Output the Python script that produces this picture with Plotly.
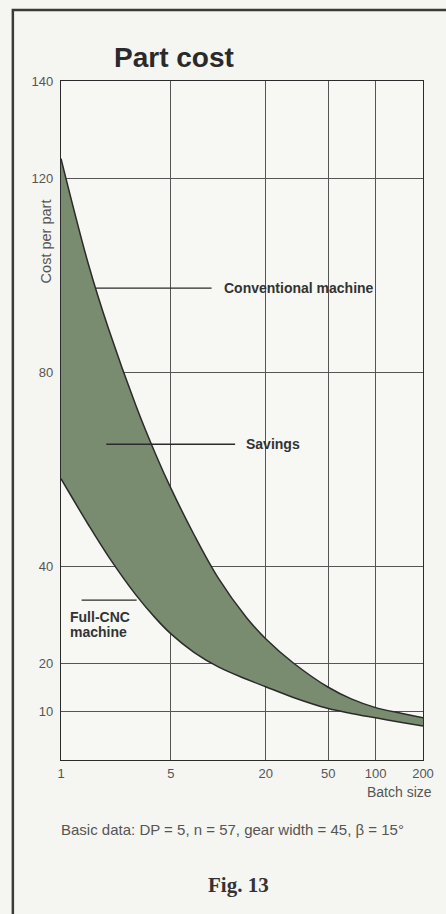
import plotly.graph_objects as go

PAPER = "#f5f5f1"
PANEL = "#f7f7f3"
INK = "#2b2b2b"
GRID = "#555555"
MUTED = "#555555"
BAND = "#798c6f"
FONT = "Liberation Sans, Arial, sans-serif"

# batch size (log axis) and cost per part
batch_size = [1, 1.5, 2, 3, 4, 5, 7, 10, 15, 20, 30, 50, 70, 100, 150, 200]
conventional = [124, 102, 89, 73, 63, 56, 46.5, 37.5, 29.5, 25, 20, 15, 12.6, 10.8, 9.55, 8.7]
full_cnc = [58, 48.4, 42.0, 34.0, 29.2, 26.0, 22.2, 19.2, 16.7, 15.1, 12.9, 10.6, 9.6, 8.7, 7.7, 7.0]

x_ticks = [1, 5, 20, 50, 100, 200]
y_ticks = [10, 20, 40, 80, 120, 140]

fig = go.Figure()

fig.add_trace(
    go.Scatter(
        x=batch_size,
        y=full_cnc,
        mode="lines",
        line=dict(color=INK, width=1.5, shape="spline", smoothing=1),
        name="Full-CNC machine",
        hoverinfo="skip"
    )
)

fig.add_trace(
    go.Scatter(
        x=batch_size,
        y=conventional,
        mode="lines",
        line=dict(color=INK, width=1.5, shape="spline", smoothing=1),
        fill="tonexty",
        fillcolor=BAND,
        name="Conventional machine",
        hoverinfo="skip"
    )
)

fig.update_layout(
    width=446,
    height=914,
    paper_bgcolor=PAPER,
    plot_bgcolor=PANEL,
    showlegend=False,
    font=dict(family=FONT, color=MUTED, size=13),
    margin=dict(l=61, r=17, t=81, b=154)
)

fig.update_xaxes(
    type="log",
    range=[0, 2.30103],
    tickvals=x_ticks,
    ticktext=[str(v) for v in x_ticks],
    ticks="outside",
    ticklen=1,
    tickcolor="rgba(0,0,0,0)",
    showgrid=True,
    gridcolor=GRID,
    gridwidth=1,
    showline=True,
    linecolor=INK,
    linewidth=1.2,
    mirror=True,
    zeroline=False,
    tickfont=dict(size=13, color=MUTED)
)

fig.update_yaxes(
    range=[0, 140],
    tickvals=y_ticks,
    ticks="outside",
    ticklen=4,
    tickcolor="rgba(0,0,0,0)",
    showgrid=True,
    gridcolor=GRID,
    gridwidth=1,
    showline=True,
    linecolor=INK,
    linewidth=1.2,
    mirror=True,
    zeroline=False,
    tickfont=dict(size=13, color=MUTED)
)

# page frame of the scanned figure
fig.add_shape(
    type="path",
    xref="paper", yref="paper",
    path="M -0.133 -0.24 L -0.133 1.1046 L 1.1 1.1046",
    line=dict(color="#3a3a3a", width=2.5)
)

# leader lines
for x0, x1, y in [(0.095, 0.416, 0.695), (0.125, 0.481, 0.465), (0.057, 0.209, 0.2356)]:
    fig.add_shape(
        type="line",
        xref="paper", yref="paper",
        x0=x0, x1=x1, y0=y, y1=y,
        line=dict(color=INK, width=1.3)
    )

labels = [
    ("Conventional machine", 0.446, 0.695),
    ("Savings", 0.505, 0.465),
    ("Full-CNC", 0.019, 0.2105),
    ("machine", 0.019, 0.188),
]
for text, x, y in labels:
    fig.add_annotation(
        text=text,
        xref="paper", yref="paper",
        x=x, y=y,
        xanchor="left", yanchor="middle",
        showarrow=False,
        font=dict(family=FONT, size=14, color="#333333", weight="bold")
    )

fig.add_annotation(
    text="Part cost",
    xref="paper", yref="paper",
    x=0.3125, y=1.035,
    xanchor="center", yanchor="middle",
    showarrow=False,
    font=dict(family=FONT, size=28, color="#2a2a2a", weight="bold")
)

fig.add_annotation(
    text="Cost per part",
    xref="paper", yref="paper",
    x=-0.041, y=0.764,
    textangle=-90,
    xanchor="center", yanchor="middle",
    showarrow=False,
    font=dict(family=FONT, size=14.5, color=MUTED)
)

fig.add_annotation(
    text="Batch size",
    xref="paper", yref="paper",
    x=1.03, y=-0.047,
    xanchor="right", yanchor="middle",
    showarrow=False,
    font=dict(family=FONT, size=14, color=MUTED)
)

fig.add_annotation(
    text="Basic data: DP = 5, n = 57, gear width = 45, β = 15°",
    xref="paper", yref="paper",
    x=-0.005, y=-0.103,
    xanchor="left", yanchor="middle",
    showarrow=False,
    font=dict(family=FONT, size=15, color=MUTED)
)

fig.add_annotation(
    text="Fig. 13",
    xref="paper", yref="paper",
    x=0.489, y=-0.184,
    xanchor="center", yanchor="middle",
    showarrow=False,
    font=dict(family="Liberation Serif, DejaVu Serif, serif", size=21, color="#333333", weight="bold")
)

fig.write_html(
    "out.html",
    config={"displayModeBar": False},
    post_script="document.body.style.margin='0';"
)
